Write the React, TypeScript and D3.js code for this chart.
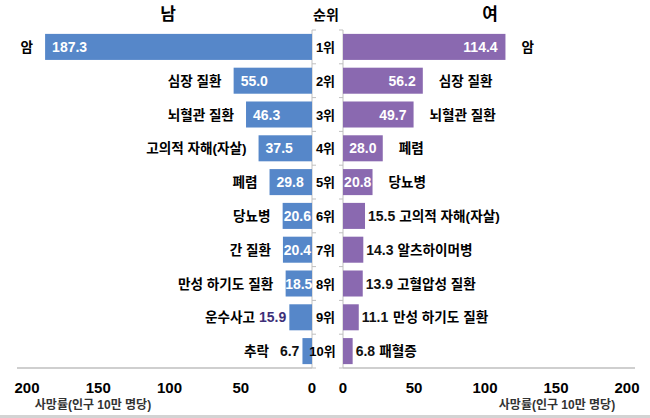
import React from "react";
import * as d3 from "d3";

const ranks = ["1위", "2위", "3위", "4위", "5위", "6위", "7위", "8위", "9위", "10위"];
const maleCauses = ["암", "심장 질환", "뇌혈관 질환", "고의적 자해(자살)", "폐렴", "당뇨병", "간 질환", "만성 하기도 질환", "운수사고", "추락"];
const maleValues = [187.3, 55.0, 46.3, 37.5, 29.8, 20.6, 20.4, 18.5, 15.9, 6.7];
const femaleCauses = ["암", "심장 질환", "뇌혈관 질환", "폐렴", "당뇨병", "고의적 자해(자살)", "알츠하이머병", "고혈압성 질환", "만성 하기도 질환", "패혈증"];
const femaleValues = [114.4, 56.2, 49.7, 28.0, 20.8, 15.5, 14.3, 13.9, 11.1, 6.8];
const tickValues = [0, 50, 100, 150, 200];
const headers = { male: "남", rank: "순위", female: "여" };
const axisTitle = "사망률(인구 10만 명당)";

const W = 650;
const H = 418;
const FONT = "'Liberation Sans', Arial, 'Noto Sans CJK KR', sans-serif";
const BLUE = "#5687c9";
const PURPLE = "#8a69b0";
const AXIS = "#bfbfbf";

const maleInsideCount = 8;
const femaleInsideCount = 5;
const maleOutsideValueColors = ["#3e3079", "#111"];

function numWidth(s: string) {
  let w = 0;
  for (const c of s) w += c === "." ? 3.9 : 7.8;
  return w;
}

export default function App() {
  const y = d3.scaleBand<string>().domain(ranks).range([30, 368]).paddingInner(0.23).paddingOuter(0.115);
  const xL = d3.scaleLinear().domain([0, 200]).range([312, 27]);
  const xR = d3.scaleLinear().domain([0, 200]).range([343, 627]);
  const bw = y.bandwidth();
  const step = y.step();
  const boundaries = d3.range(ranks.length + 1).map((i) => 30 + i * step);
  const NAME = 13.6;

  return (
    <svg width={W} height={H} style={{ position: "absolute", left: 0, top: 0, fontFamily: FONT }}>
      <rect x={0} y={0} width={W} height={H} fill="#fff" />
      <rect x={0} y={415} width={W} height={3} fill="#d3d3d3" />

      <text x={168} y={20} textAnchor="middle" fontSize={17} fontWeight="bold">{headers.male}</text>
      <text x={326} y={20} textAnchor="middle" fontSize={14} fontWeight="bold">{headers.rank}</text>
      <text x={490} y={20} textAnchor="middle" fontSize={17} fontWeight="bold">{headers.female}</text>

      <line x1={312} x2={312} y1={30} y2={368} stroke={AXIS} />
      <line x1={343} x2={343} y1={30} y2={368} stroke={AXIS} />
      {boundaries.map((b, i) => (
        <g key={"tk" + i}>
          <line x1={312} x2={316} y1={b} y2={b} stroke={AXIS} />
          <line x1={339} x2={343} y1={b} y2={b} stroke={AXIS} />
        </g>
      ))}
      <line x1={17} x2={312} y1={368} y2={368} stroke={AXIS} strokeWidth={1.5} />
      <line x1={343} x2={635} y1={368} y2={368} stroke={AXIS} strokeWidth={1.5} />

      {tickValues.map((t) => (
        <g key={"t" + t}>
          <text x={xL(t)} y={393} textAnchor="middle" fontSize={15} fontWeight="bold">{t}</text>
          <text x={xR(t)} y={393} textAnchor="middle" fontSize={15} fontWeight="bold">{t}</text>
        </g>
      ))}
      <text x={93} y={409} textAnchor="middle" fontSize={12} fontWeight="bold" fill="#333">{axisTitle}</text>
      <text x={557} y={409} textAnchor="middle" fontSize={12} fontWeight="bold" fill="#333">{axisTitle}</text>

      {maleValues.map((v, i) => {
        const y0 = y(ranks[i])!;
        const cy = y0 + bw / 2 + 5;
        const left = xL(v);
        const width = xL(0) - left;
        const label = v.toFixed(1);
        const tw = numWidth(label);
        const inside = i < maleInsideCount;
        let textLeft: number;
        if (inside) {
          textLeft = width < tw + 14 ? left + width / 2 - tw / 2 : left + 7;
        } else {
          textLeft = left - 3 - tw;
        }
        const nameRight = inside ? Math.min(left, textLeft) - 12 : textLeft - (i === 8 ? 4 : 11);
        return (
          <g key={"m" + i}>
            <rect x={left} y={y0} width={width} height={bw} fill={BLUE} />
            <text x={textLeft} y={cy} fontSize={14} fontWeight="bold" fill={inside ? "#fff" : maleOutsideValueColors[i - maleInsideCount]}>{label}</text>
            <text x={nameRight} y={cy} textAnchor="end" fontSize={NAME} fontWeight="bold" fill="#000">{maleCauses[i]}</text>
          </g>
        );
      })}

      {ranks.map((r, i) => (
        <text key={"r" + i} x={i === 9 ? 322.5 : 325.5} y={y(r)! + bw / 2 + 5} textAnchor="middle" fontSize={13} fontWeight="bold">{r}</text>
      ))}

      {femaleValues.map((v, i) => {
        const y0 = y(ranks[i])!;
        const cy = y0 + bw / 2 + 5;
        const right = xR(v);
        const width = right - xR(0);
        const label = v.toFixed(1);
        const tw = numWidth(label);
        const inside = i < femaleInsideCount;
        if (inside) {
          const textLeft = width < tw + 14 ? xR(0) + width / 2 - tw / 2 : right - 7 - tw;
          return (
            <g key={"f" + i}>
              <rect x={xR(0)} y={y0} width={width} height={bw} fill={PURPLE} />
              <text x={textLeft} y={cy} fontSize={14} fontWeight="bold" fill="#fff">{label}</text>
              <text x={right + 16} y={cy} fontSize={NAME} fontWeight="bold" fill="#000">{femaleCauses[i]}</text>
            </g>
          );
        }
        return (
          <g key={"f" + i}>
            <rect x={xR(0)} y={y0} width={width} height={bw} fill={PURPLE} />
            <text x={right + 3} y={cy} fontSize={14} fontWeight="bold" fill="#111">{label}</text>
            <text x={right + 3 + tw + 4} y={cy} fontSize={NAME} fontWeight="bold" fill="#000">{femaleCauses[i]}</text>
          </g>
        );
      })}
    </svg>
  );
}
